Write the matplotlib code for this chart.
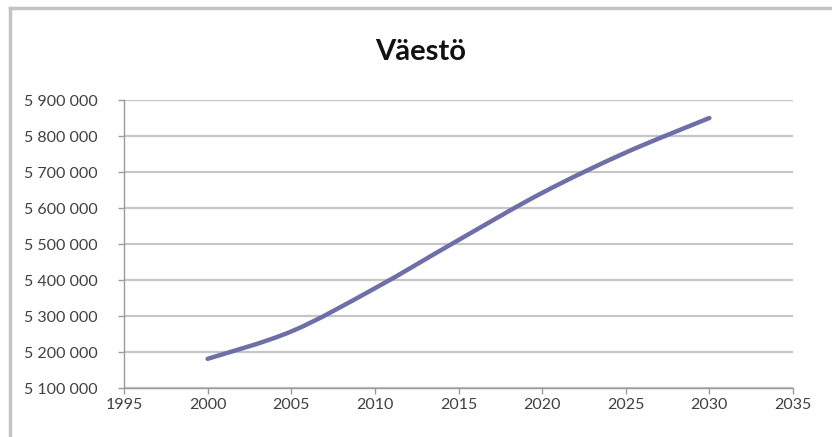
import matplotlib
matplotlib.use("Agg")
import matplotlib.pyplot as plt
from matplotlib.path import Path
from matplotlib.patches import PathPatch
from matplotlib.ticker import FuncFormatter

# Väestö (population), 5-year points
years = [2000, 2005, 2010, 2015, 2020, 2025, 2030]
population = [5181000, 5257000, 5377000, 5511000, 5642000, 5754000, 5850000]

x_ticks = [1995, 2000, 2005, 2010, 2015, 2020, 2025, 2030, 2035]
y_ticks = [5100000, 5200000, 5300000, 5400000, 5500000, 5600000, 5700000, 5800000, 5900000]

plt.rcParams['font.family'] = ['Lato', 'DejaVu Sans']


def smooth_path(xs, ys):
    '''Catmull-Rom kaltainen pehmennys Bezier-käyrinä (kuten Excelin tasoitettu viiva)'''
    verts = [(xs[0], ys[0])]
    codes = [Path.MOVETO]
    n = len(xs)
    for i in range(n - 1):
        x0, y0 = (xs[i - 1], ys[i - 1]) if i > 0 else (xs[i], ys[i])
        x1, y1 = xs[i], ys[i]
        x2, y2 = xs[i + 1], ys[i + 1]
        x3, y3 = (xs[i + 2], ys[i + 2]) if i + 2 < n else (x2, y2)
        c1 = (x1 + (x2 - x0) / 6, y1 + (y2 - y0) / 6)
        c2 = (x2 - (x3 - x1) / 6, y2 - (y3 - y1) / 6)
        verts += [c1, c2, (x2, y2)]
        codes += [Path.CURVE4] * 3
    return Path(verts, codes)


fig = plt.figure(figsize=(8.32, 4.37), dpi=100)
fig.patch.set_facecolor('white')

# harmaa kehys vasemmalla ja ylhäällä
fig.add_artist(plt.Line2D([10 / 832, 10 / 832], [0, 1 - 8 / 437], color='#c4c4c4',
                          lw=2.5, transform=fig.transFigure))
fig.add_artist(plt.Line2D([10 / 832, 1], [1 - 8 / 437, 1 - 8 / 437], color='#c4c4c4',
                          lw=2.5, transform=fig.transFigure))

ax = fig.add_axes([124 / 832, 1 - 388 / 437, 669 / 832, 288 / 437])
ax.set_xlim(1995, 2035)
ax.set_ylim(5100000, 5900000)
ax.set_xticks(x_ticks)
ax.set_yticks(y_ticks)
ax.yaxis.set_major_formatter(FuncFormatter(lambda v, p: f"{int(v):,}".replace(",", " ")))

ax.grid(axis='y', color='#c6c6c6', lw=1.6)
ax.set_axisbelow(True)
for side in ['top', 'right']:
    ax.spines[side].set_visible(False)
for side in ['left', 'bottom']:
    ax.spines[side].set_color('#9a9a9a')
    ax.spines[side].set_linewidth(1.0)
ax.tick_params(colors='#9a9a9a', length=4, width=1.0, labelcolor='#404040', labelsize=11.5)
ax.tick_params(axis='y', pad=15)
ax.tick_params(axis='x', pad=3)

ax.add_patch(PathPatch(smooth_path(years, population), facecolor='none',
                       edgecolor='#6e6ea8', lw=3.2, capstyle='round'))

fig.text(421 / 832, 1 - 52 / 437, 'Väestö', ha='center', va='center',
         fontsize=21, fontweight='bold', color='#111111')

fig.savefig('out.png', dpi=100)
